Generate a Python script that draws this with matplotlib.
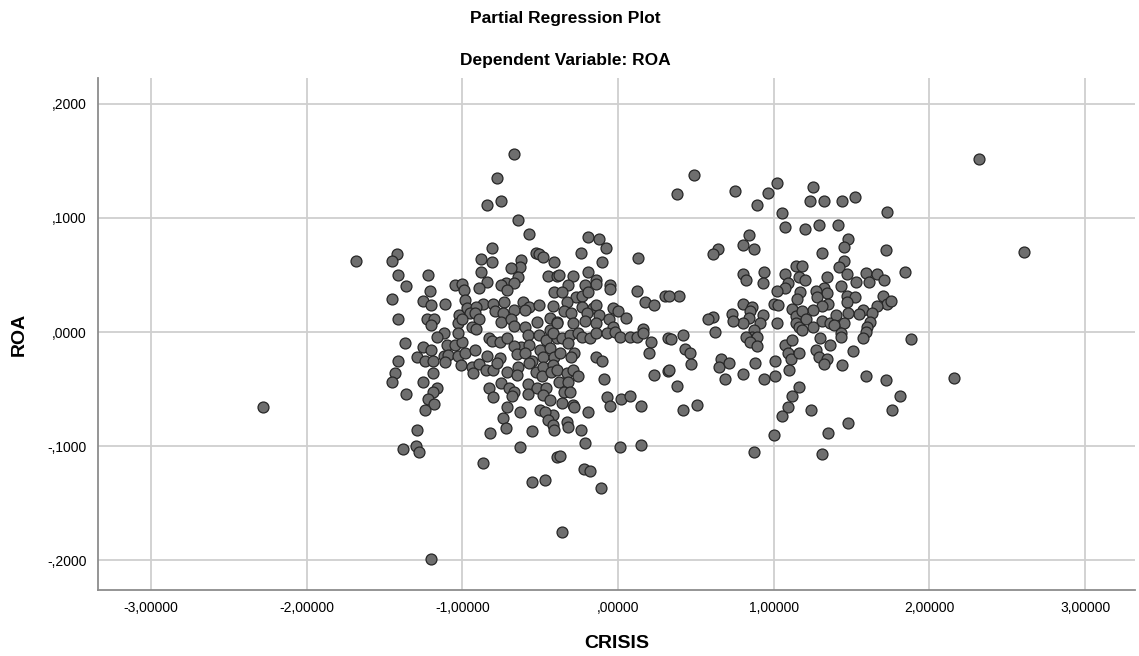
import numpy as np
import matplotlib
matplotlib.use("Agg")
import matplotlib.pyplot as plt
from matplotlib.ticker import FuncFormatter

plt.rcParams['font.family'] = ['Liberation Sans', 'DejaVu Sans']

# partialled CRISIS / ROA residuals, cases with negative CRISIS residual
left_cluster = [
    (-1.42, 0.068), (-1.45, 0.062), (-1.41, 0.050), (-1.22, 0.050), (-1.36, 0.040), (-1.21, 0.036),
    (-1.45, 0.029), (-1.25, 0.027), (-1.20, 0.024), (-1.11, 0.025), (-1.05, 0.041), (-1.00, 0.042),
    (-0.99, 0.037), (-1.41, 0.011), (-1.23, 0.011), (-1.18, 0.011), (-1.20, 0.006), (-1.02, 0.015),
    (-1.03, 0.008), (-1.12, -0.001), (-1.16, -0.004),
    (-1.37, -0.010), (-1.25, -0.013), (-1.20, -0.016), (-1.10, -0.011), (-1.05, -0.011), (-1.00, -0.009),
    (-1.03, -0.001), (-1.29, -0.022), (-1.24, -0.025), (-1.19, -0.025), (-1.12, -0.021), (-1.09, -0.020),
    (-1.03, -0.021), (-0.98, -0.018), (-1.11, -0.026), (-1.01, -0.029), (-1.41, -0.025), (-1.43, -0.036),
    (-1.45, -0.044), (-1.25, -0.044), (-1.19, -0.036), (-1.36, -0.054), (-1.16, -0.049), (-1.19, -0.053),
    (-1.22, -0.059), (-1.18, -0.063), (-1.24, -0.068), (-1.29, -0.086), (-1.38, -0.103), (-1.30, -0.100),
    (-1.28, -0.105),
    (-0.78, 0.135), (-0.84, 0.111), (-0.75, 0.115), (-0.64, 0.098), (-0.57, 0.086), (-0.81, 0.074),
    (-0.88, 0.064), (-0.81, 0.061), (-0.62, 0.063), (-0.63, 0.057), (-0.69, 0.056), (-0.88, 0.053),
    (-0.64, 0.048), (-0.53, 0.069), (-0.51, 0.068), (-0.48, 0.066), (-0.41, 0.061), (-0.45, 0.049),
    (-0.39, 0.049), (-0.84, 0.044), (-0.89, 0.039), (-0.72, 0.043), (-0.75, 0.041), (-0.67, 0.043),
    (-0.71, 0.037), (-0.41, 0.035), (-0.98, 0.028), (-0.87, 0.025), (-0.80, 0.025), (-0.73, 0.026),
    (-0.61, 0.026), (-0.57, 0.022), (-0.51, 0.024), (-0.42, 0.023), (-0.97, 0.021), (-0.91, 0.022),
    (-0.79, 0.018), (-0.74, 0.017), (-0.67, 0.019), (-0.60, 0.019), (-0.95, 0.017), (-0.92, 0.017),
    (-0.89, 0.011), (-1.00, 0.011), (-0.75, 0.009), (-0.69, 0.011), (-0.52, 0.009), (-0.44, 0.012),
    (-0.39, 0.009), (-0.94, 0.004), (-0.67, 0.005), (-0.60, 0.004),
    (-0.91, 0.003), (-0.83, -0.005), (-0.81, -0.008), (-0.76, -0.009), (-0.71, -0.005), (-0.44, 0.002),
    (-0.58, -0.003), (-0.51, -0.003), (-0.46, -0.007), (-0.39, -0.005), (-0.62, -0.013), (-0.67, -0.012),
    (-0.57, -0.011), (-0.50, -0.016), (-0.44, -0.014), (-0.92, -0.016), (-0.84, -0.021), (-0.76, -0.023),
    (-0.65, -0.019), (-0.60, -0.018), (-0.55, -0.025), (-0.48, -0.022), (-0.41, -0.022), (-0.94, -0.031),
    (-0.89, -0.028), (-0.85, -0.033), (-0.80, -0.033), (-0.78, -0.027), (-0.71, -0.035), (-0.64, -0.031),
    (-0.65, -0.038), (-0.57, -0.027), (-0.53, -0.035), (-0.48, -0.031), (-0.42, -0.029), (-0.93, -0.036),
    (-0.49, -0.039), (-0.43, -0.035), (-0.75, -0.045), (-0.83, -0.049), (-0.80, -0.057), (-0.70, -0.049),
    (-0.67, -0.053), (-0.68, -0.056), (-0.58, -0.046), (-0.52, -0.049), (-0.58, -0.054), (-0.46, -0.049),
    (-0.48, -0.055), (-0.44, -0.060), (-0.71, -0.066), (-0.74, -0.075), (-0.63, -0.070), (-0.50, -0.068),
    (-0.42, -0.073), (-0.47, -0.070), (-0.45, -0.077), (-0.42, -0.082), (-0.41, -0.086), (-0.72, -0.084),
    (-0.82, -0.089), (-0.55, -0.087), (-0.63, -0.101),
    (-0.87, -0.115), (-0.55, -0.132), (-0.47, -0.130), (-0.36, -0.175), (-0.39, -0.110),
    (-0.19, 0.083), (-0.12, 0.082), (-0.08, 0.074), (-0.24, 0.069), (-0.10, 0.061), (-0.38, 0.050),
    (-0.29, 0.049), (-0.19, 0.053), (-0.14, 0.046), (-0.14, 0.042), (-0.21, 0.041), (-0.05, 0.041),
    (-0.05, 0.038), (-0.32, 0.041), (-0.36, 0.035), (-0.27, 0.031), (-0.23, 0.032), (-0.19, 0.035),
    (-0.33, 0.026), (-0.23, 0.022), (-0.16, 0.021), (-0.14, 0.024), (-0.03, 0.021), (-0.35, 0.018),
    (-0.30, 0.017), (-0.20, 0.017), (-0.12, 0.015), (-0.06, 0.011), (-0.39, 0.008), (-0.29, 0.008),
    (-0.21, 0.010), (-0.14, 0.008), (-0.03, 0.004),
    (-0.42, -0.001), (-0.36, -0.005), (-0.31, -0.003), (-0.26, -0.001), (-0.23, -0.004), (-0.18, -0.005),
    (-0.14, -0.001), (-0.07, -0.001), (-0.02, 0.000), (-0.37, -0.018), (-0.32, -0.010), (-0.28, -0.018),
    (-0.30, -0.022), (-0.14, -0.022), (-0.10, -0.025), (-0.39, -0.033), (-0.33, -0.036), (-0.29, -0.033),
    (-0.26, -0.039), (-0.38, -0.044), (-0.32, -0.044), (-0.09, -0.041), (-0.35, -0.053), (-0.31, -0.053),
    (-0.36, -0.062), (-0.29, -0.064), (-0.28, -0.066), (-0.07, -0.057), (-0.05, -0.065), (-0.19, -0.070),
    (-0.33, -0.079), (-0.32, -0.083), (-0.24, -0.086), (-0.21, -0.097), (-0.37, -0.109), (-0.22, -0.120),
    (-0.18, -0.122), (-0.11, -0.137),
]

# cases with positive CRISIS residual
right_cluster = [
    (0.13, 0.065), (0.12, 0.036), (0.30, 0.032), (0.17, 0.026), (0.23, 0.024), (0.00, 0.018),
    (0.05, 0.012), (0.16, 0.003), (0.01, -0.004), (0.08, -0.004), (0.12, -0.004), (0.16, -0.001),
    (0.32, -0.005), (0.21, -0.009), (0.20, -0.018), (0.23, -0.038), (0.32, -0.034), (0.02, -0.059),
    (0.08, -0.056), (0.15, -0.065), (0.01, -0.101), (0.15, -0.099),
    (0.49, 0.138), (0.38, 0.121), (0.75, 0.124), (0.89, 0.111), (0.96, 0.122), (1.02, 0.131),
    (1.05, 0.104), (1.07, 0.092), (0.84, 0.085), (0.80, 0.076), (0.87, 0.073), (0.64, 0.073),
    (0.61, 0.068), (0.80, 0.051), (0.82, 0.046), (0.94, 0.053), (0.93, 0.043), (1.07, 0.051),
    (1.09, 0.043), (1.07, 0.039), (1.02, 0.036), (1.14, 0.058), (1.16, 0.048), (0.39, 0.032),
    (0.33, 0.032), (0.80, 0.025), (0.86, 0.022), (0.85, 0.018), (0.93, 0.015), (0.91, 0.008),
    (0.84, 0.012), (0.80, 0.008), (0.73, 0.016), (0.74, 0.010), (0.61, 0.013), (0.58, 0.011),
    (0.62, 0.000), (1.00, 0.025), (1.03, 0.024), (1.02, 0.008), (1.12, 0.020), (1.14, 0.014),
    (1.14, 0.008), (1.16, 0.004), (0.87, 0.002), (0.86, -0.004), (0.82, -0.004), (0.89, -0.004),
    (0.85, -0.009), (0.89, -0.012), (0.34, -0.006), (0.42, -0.003), (0.43, -0.015), (0.46, -0.018),
    (0.47, -0.028), (0.33, -0.033), (0.38, -0.047), (0.66, -0.024), (0.65, -0.031), (0.71, -0.027),
    (0.69, -0.041), (0.80, -0.037), (0.88, -0.027), (0.94, -0.041), (1.01, -0.025), (1.01, -0.039),
    (1.07, -0.011), (1.12, -0.007), (1.09, -0.018), (1.11, -0.024), (1.10, -0.033), (1.16, -0.018),
    (1.16, -0.048), (1.12, -0.056), (1.09, -0.066), (1.05, -0.074), (0.42, -0.068), (0.51, -0.064),
    (1.00, -0.090), (0.87, -0.105),
    (1.25, 0.127), (1.23, 0.115), (1.32, 0.115), (1.44, 0.115), (1.52, 0.118), (1.20, 0.090),
    (1.29, 0.094), (1.41, 0.094), (1.48, 0.082), (1.45, 0.075), (1.31, 0.069), (1.72, 0.072),
    (1.45, 0.062), (1.42, 0.057), (1.47, 0.051), (1.18, 0.058), (1.20, 0.046), (1.59, 0.052),
    (1.61, 0.044), (1.66, 0.051), (1.71, 0.046), (1.53, 0.044), (1.43, 0.040), (1.34, 0.048),
    (1.32, 0.039), (1.34, 0.034), (1.27, 0.036), (1.17, 0.035), (1.15, 0.029), (1.28, 0.031),
    (1.47, 0.032), (1.52, 0.031), (1.47, 0.026), (1.70, 0.032), (1.73, 0.025), (1.75, 0.027),
    (1.66, 0.023), (1.57, 0.019), (1.63, 0.017), (1.55, 0.016), (1.48, 0.017), (1.35, 0.025),
    (1.31, 0.023), (1.25, 0.019), (1.18, 0.018), (1.21, 0.011), (1.31, 0.010), (1.36, 0.008),
    (1.40, 0.015), (1.45, 0.008), (1.39, 0.006), (1.62, 0.009), (1.60, 0.004), (1.59, 0.000),
    (1.18, 0.002), (1.25, 0.004), (1.43, -0.001), (1.43, -0.004), (1.57, -0.005), (1.30, -0.005),
    (1.36, -0.011), (1.27, -0.016), (1.29, -0.022), (1.34, -0.024), (1.32, -0.028), (1.51, -0.017),
    (1.44, -0.029), (1.59, -0.039), (1.72, -0.042), (1.81, -0.056), (1.76, -0.068), (1.24, -0.068),
    (1.48, -0.080), (1.35, -0.089), (1.31, -0.107),
]

# isolated cases away from the two clusters
outliers = [
    (-2.28, -0.066), (-1.68, 0.062), (-1.20, -0.199), (-0.67, 0.156), (2.32, 0.152),
    (2.61, 0.070), (2.16, -0.040), (1.88, -0.006), (1.84, 0.053), (1.73, 0.105),
]

x_ticks = [-3, -2, -1, 0, 1, 2, 3]
y_ticks = [-0.2, -0.1, 0.0, 0.1, 0.2]

pts = np.array(left_cluster + right_cluster + outliers)
crisis = pts[:, 0]
roa = pts[:, 1]


def comma_fmt(decimals):
    # SPSS style: comma decimal separator, no leading zero
    def f(v, pos):
        s = ('%.' + str(decimals) + 'f') % (v + 0.0)
        s = s.replace('-0.', '-.')
        if s.startswith('0.'):
            s = s[1:]
        return s.replace('.', ',')
    return FuncFormatter(f)


fig = plt.figure(figsize=(11.39, 6.56), dpi=100)
ax = fig.add_axes([0.086, 0.1006, 0.9105, 0.7805])

ax.scatter(crisis, roa, s=62, facecolor='#6e6e6e', edgecolor='#262626',
           linewidth=0.9, zorder=3)

ax.set_xlim(-3.34, 3.32)
ax.set_ylim(-0.2263, 0.2228)
ax.set_xticks(x_ticks)
ax.set_yticks(y_ticks)
ax.xaxis.set_major_formatter(comma_fmt(5))
ax.yaxis.set_major_formatter(comma_fmt(4))
ax.tick_params(length=0, labelsize=10, colors='#000000', pad=8)

ax.grid(True, color='#cfcfcf', linewidth=1.3, zorder=0)
ax.set_axisbelow(True)
for side in ['top', 'right']:
    ax.spines[side].set_visible(False)
for side in ['left', 'bottom']:
    ax.spines[side].set_color('#8c8c8c')
    ax.spines[side].set_linewidth(1.3)

ax.set_xlabel('CRISIS', fontsize=14, fontweight='bold', labelpad=14)
ax.set_ylabel('ROA', fontsize=14, fontweight='bold', labelpad=14)

fig.text(0.496, 0.972, 'Partial Regression Plot', ha='center', va='center',
         fontsize=12.5, fontweight='bold')
fig.text(0.496, 0.908, 'Dependent Variable: ROA', ha='center', va='center',
         fontsize=12.5, fontweight='bold')

fig.savefig('out.png', dpi=100)
